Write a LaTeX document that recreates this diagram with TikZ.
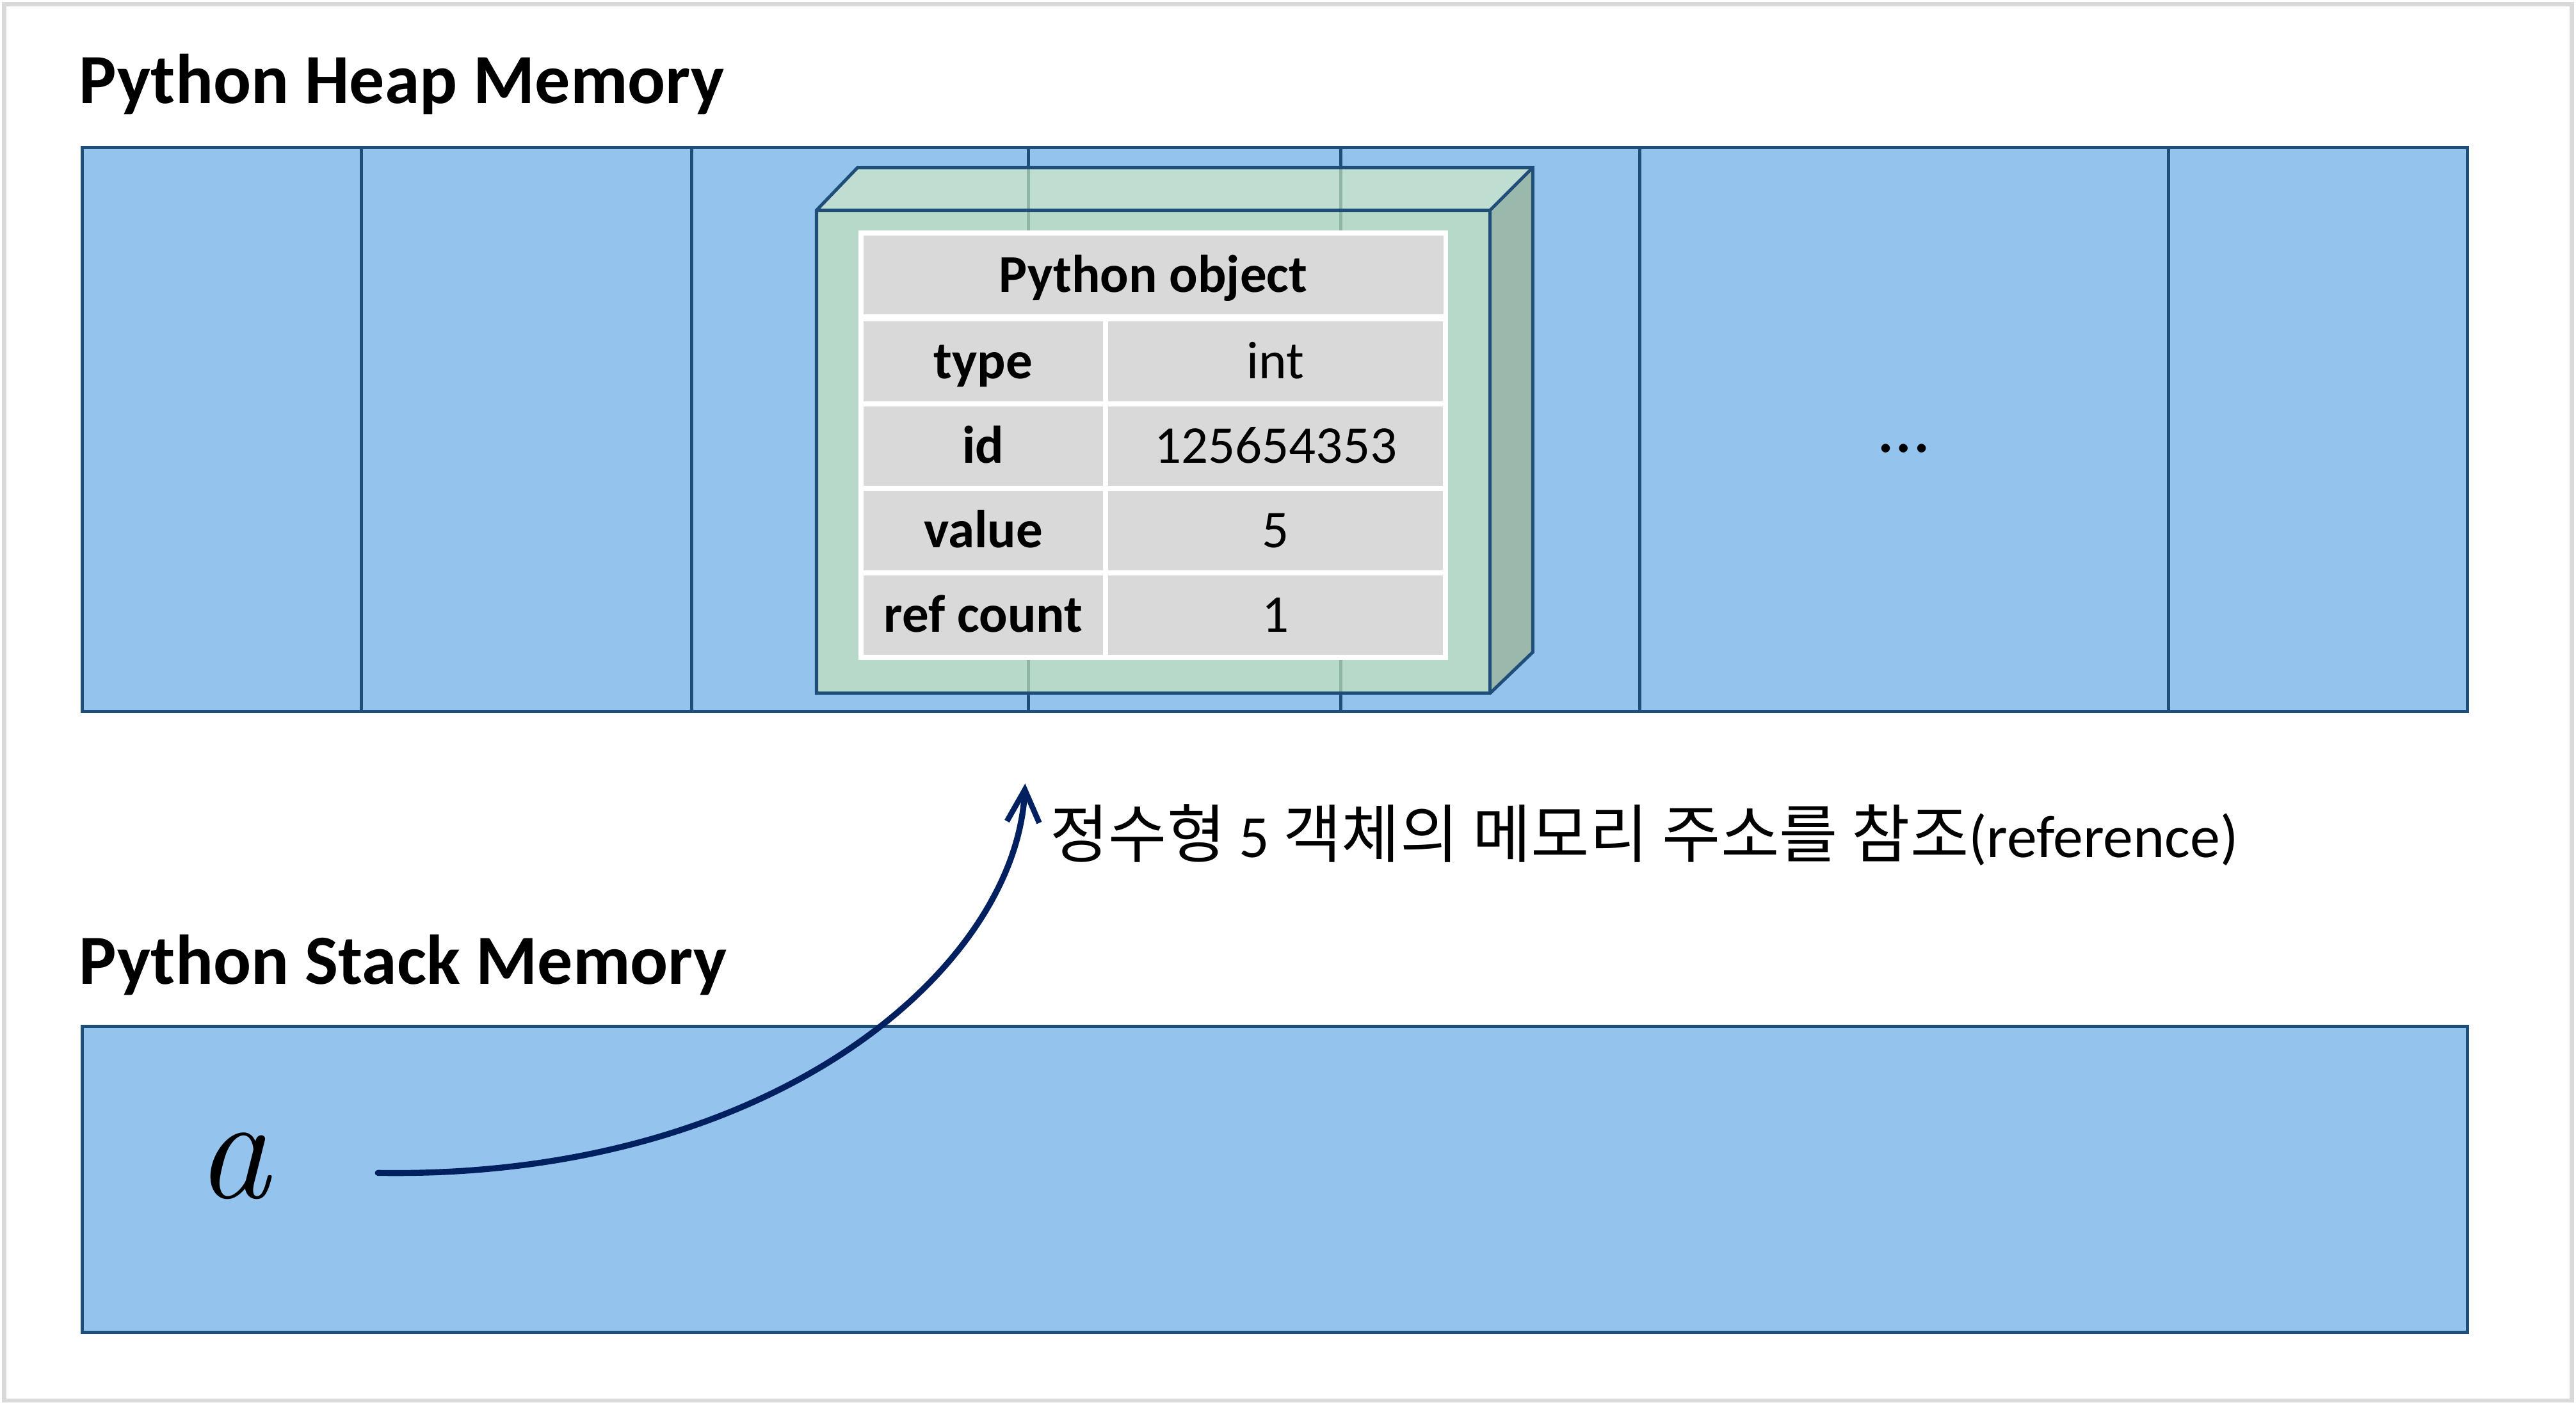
\documentclass[tikz,border=0pt]{standalone}
\usepackage{fontspec}
\setmainfont{Carlito}
\newfontfamily\kr{Noto Sans CJK KR}
\usetikzlibrary{arrows.meta}
\definecolor{heapfill}{HTML}{94C3EE}
\definecolor{heapline}{HTML}{1F4E79}
\definecolor{framegray}{HTML}{D9D9D9}
\definecolor{frontface}{HTML}{B7D9C9}
\definecolor{topface}{HTML}{C0DDD2}
\definecolor{sideface}{HTML}{9BB8AC}
\definecolor{ghostline}{HTML}{8FB5A5}
\definecolor{cellgray}{HTML}{D9D9D9}
\definecolor{arrowblue}{HTML}{002060}
\tikzset{
  memrect/.style={fill=heapfill, draw=heapline, line width=1.4pt},
  divider/.style={draw=heapline, line width=1.4pt},
  boxface/.style={draw=heapline, line width=1.4pt, line join=miter},
  heading/.style={font=\bfseries\fontsize{30.5}{36}\selectfont, inner sep=0pt, anchor=base west},
  cellbase/.style={fill=cellgray, draw=white, line width=2.2pt, inner sep=0pt, outer sep=0pt,
    font=\fontsize{23}{27}\selectfont, text height=14.7pt, text depth=0pt},
  hdrcell/.style={cellbase, font=\bfseries\fontsize{23}{27}\selectfont,
    minimum width=8.9cm, minimum height=1.275cm},
  keycell/.style={cellbase, font=\bfseries\fontsize{23}{27}\selectfont,
    minimum width=3.725cm, minimum height=1.2875cm},
  valcell/.style={cellbase, minimum width=5.175cm, minimum height=1.2875cm},
  refarrow/.style={draw=arrowblue, line width=2.6pt, line cap=round,
    -{Straight Barb[length=14pt, width=14pt, line width=2.4pt]}},
}
\begin{document}
\begin{tikzpicture}[x=0.025cm, y=-0.025cm]
\useasboundingbox (0,0) rectangle (1568,855);
\draw[framegray, line width=1.8pt] (2.5,2.5) rectangle (1565.5,852.5);

% headings
\node[heading] (heaptitle) at (48,63) {Python Heap Memory};
\node[heading] (stacktitle) at (48,599) {Python Stack Memory};

% heap memory
\draw[memrect] (50,90) rectangle (1502,433);
\foreach \xx in {220,421,626,816,998,1320}
  \draw[divider] (\xx,90) -- (\xx,433);
\node[font=\fontsize{31}{34}\selectfont] (dots) at (1159,273) {…};

% stack memory
\draw[memrect] (50,625) rectangle (1502,811);

% 3D object box
\fill[sideface] (907,128) -- (933,102) -- (933,397) -- (907,422) -- cycle;
\fill[topface] (497,128) -- (522,102) -- (933,102) -- (907,128) -- cycle;
\fill[frontface] (497,128) rectangle (907,422);
\draw[ghostline, line width=1.4pt] (626,102) -- (626,422);
\draw[ghostline, line width=1.4pt] (816,102) -- (816,422);
\draw[boxface] (497,128) -- (522,102) -- (933,102) -- (933,397) -- (907,422) -- (497,422) -- cycle;
\draw[boxface] (497,128) -- (907,128) -- (933,102);
\draw[boxface] (907,128) -- (907,422);

% table
\draw[white, fill=white] (523,141) rectangle (881,401);
\node[hdrcell] (hdr) at (702,167.5) {Python object};
\node[keycell] (k1) at (598.5,220) {type};
\node[valcell] (v1) at (776.5,220) {int};
\node[keycell] (k2) at (598.5,271.5) {id};
\node[valcell] (v2) at (776.5,271.5) {125654353};
\node[keycell] (k3) at (598.5,323) {value};
\node[valcell] (v3) at (776.5,323) {5};
\node[keycell] (k4) at (598.5,374.5) {ref count};
\node[valcell] (v4) at (776.5,374.5) {1};

% variable a and reference arrow
\node[inner sep=0pt] (avar) at (142,710) {\fontfamily{lmr}\itshape\fontsize{64}{64}\selectfont a};
\coordinate (arrowstart) at (230,714);
\coordinate (arrowend) at (624,477);
\draw[refarrow] (arrowstart) .. controls (470,718) and (618,590) .. (arrowend);
\node[inner sep=0pt, anchor=base west, font=\fontsize{26}{30}\selectfont] (reflabel) at (639,522)
  {{\kr\fontsize{27.5}{30}\selectfont 정수형} 5 {\kr\fontsize{27.5}{30}\selectfont 객체의 메모리 주소를 참조}(reference)};
\end{tikzpicture}
\end{document}
